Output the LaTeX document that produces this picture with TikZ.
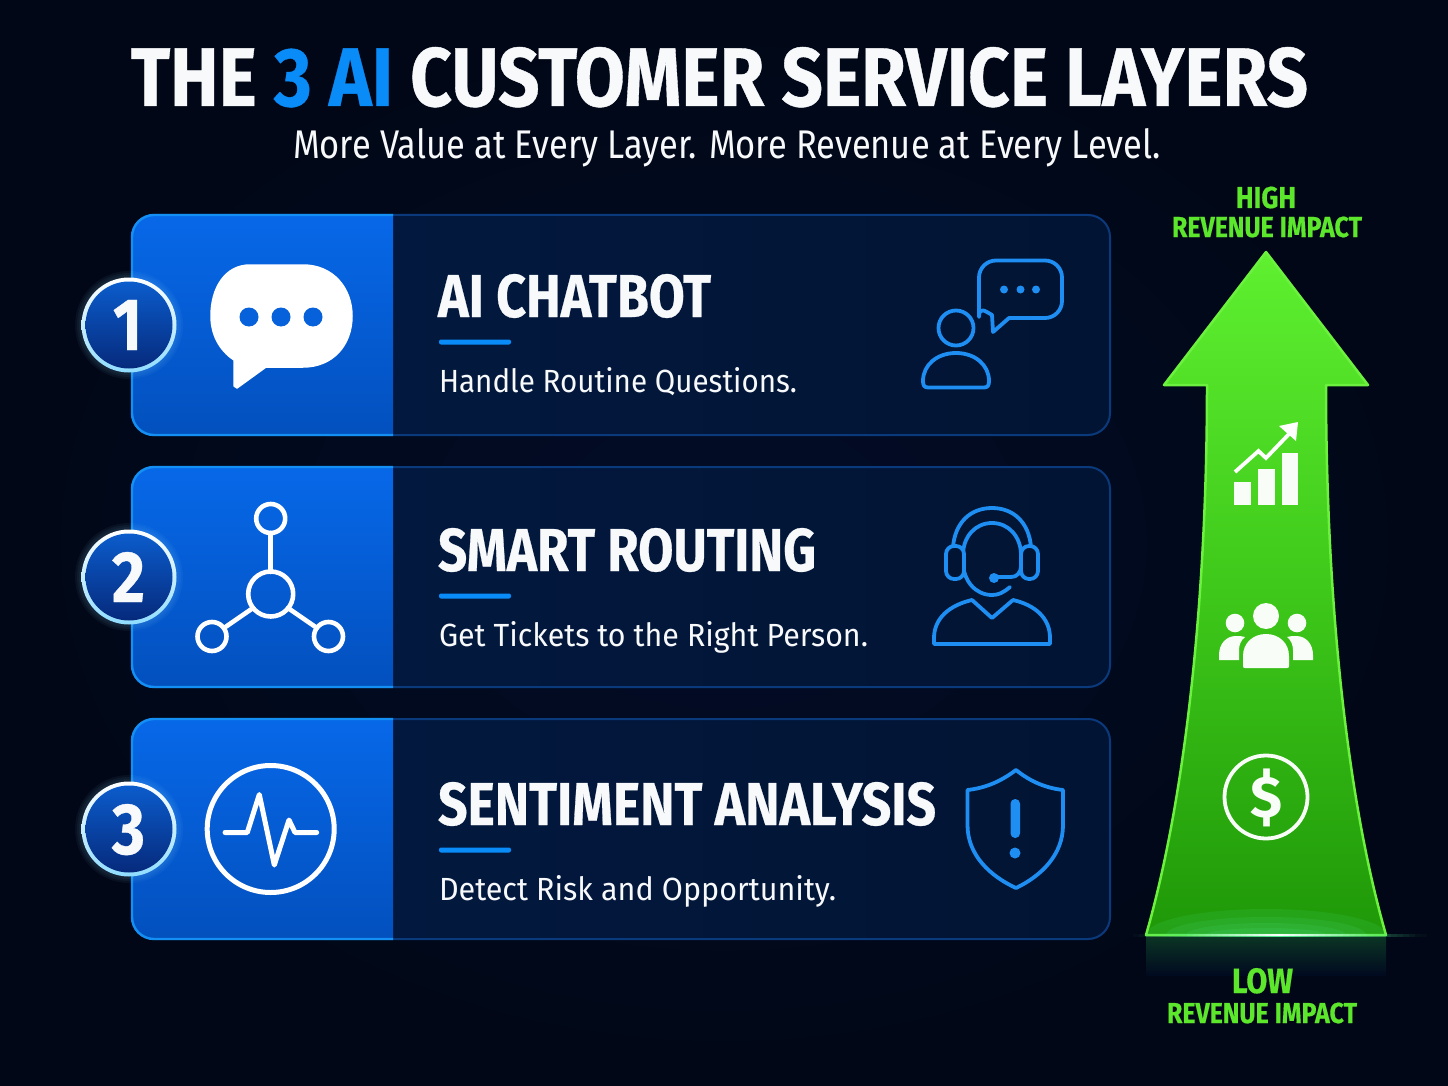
\documentclass[tikz,border=0pt]{standalone}
\usepackage{fontspec}
\usepackage{graphicx}
\setmainfont{Fira Sans}
\newfontfamily\heavyf{Fira Sans}[BoldFeatures={FakeBold=0.5}]
\definecolor{bgin}{HTML}{020D28}
\definecolor{bgout}{HTML}{010716}
\definecolor{bgmid}{HTML}{010A20}
\definecolor{pnlL}{HTML}{021A42}
\definecolor{pnlR}{HTML}{021433}
\definecolor{pnlB}{HTML}{0B3A7C}
\definecolor{blueT}{HTML}{0768E8}
\definecolor{blueB}{HTML}{0350BE}
\definecolor{blueE}{HTML}{1490F5}
\definecolor{accent}{HTML}{0A8CF8}
\definecolor{iconblue}{HTML}{1E8EF2}
\definecolor{txtwhite}{HTML}{F8F9FB}
\definecolor{grn}{HTML}{5CE62C}
\definecolor{arT}{HTML}{5FF030}
\definecolor{arM}{HTML}{3EC81A}
\definecolor{arB}{HTML}{1F9808}
\definecolor{arE}{HTML}{6CF23E}
\definecolor{ringB}{HTML}{8FDCFF}
\definecolor{badT}{HTML}{0B5CCC}
\definecolor{badB}{HTML}{062A7C}
\definecolor{footG}{HTML}{4FE890}
\definecolor{reflG}{HTML}{0B3524}
\newcommand{\fitbox}[3]{\resizebox{#1pt}{#2pt}{#3}}
\tikzset{
  txt/.style={inner sep=0pt, outer sep=0pt, anchor=base west, text=txtwhite},
  headtxt/.style={txt, font=\heavyf\bfseries},
  grntxt/.style={headtxt, text=grn},
  whiteicon/.style={draw=white, line width=4.6pt, line cap=round, line join=round},
  blueicon/.style={draw=iconblue, line width=3.8pt, line cap=round, line join=round},
  greenwhite/.style={fill=white!97!arM},
  rulebar/.style={fill=accent, rounded corners=2pt}
}
\begin{document}
\begin{tikzpicture}[x=1pt,y=-1pt]
\useasboundingbox (0,0) rectangle (1448,1086);
\shade[inner color=bgin, outer color=bgout] (0,0) rectangle (1448,1086);
% title
\node[headtxt] (title) at (131,106) {\fitbox{1177}{59}{THE \textcolor{accent}{3 AI} CUSTOMER SERVICE LAYERS}};
\node[txt] (subtitle) at (293,159) {\fitbox{868}{30}{More Value at Every Layer. More Revenue at Every Level.}};
% panels
\foreach \t in {215,467,719}{
  \pgfmathsetmacro{\b}{\t+220}
  \shade[left color=pnlL, right color=pnlR, rounded corners=22pt] (132,\t) rectangle (1110,\b);
  \draw[pnlB, line width=2pt, rounded corners=22pt] (132,\t) rectangle (1110,\b);
  \begin{scope}
    \clip[rounded corners=22pt] (132,\t) rectangle (1110,\b);
    \shade[top color=blueT, bottom color=blueB] (132,\t) rectangle (393,\b);
  \end{scope}
  \draw[blueE, line width=2.4pt, rounded corners=22pt] (393,\t) -- (132,\t) -- (132,\b) -- (393,\b);
}
% badges
\foreach \n/\cy/\dx/\dw/\base in {1/325/113/29/350, 2/577/112/33/602, 3/829/112/33/854}{
  \foreach \g in {7,5,3}{
    \fill[ringB, opacity=.05] (129,\cy) circle[radius=47pt+\g pt];
  }
  \shade[top color=white, bottom color=ringB] (129,\cy) circle[radius=47.5pt];
  \shade[top color=badT, bottom color=badB] (129,\cy) circle[radius=43.5pt];
  \node[headtxt] (badge\n) at (\dx,\base) {\fitbox{\dw}{50}{\n}};
}
% chat icon
\fill[white, draw=white, line width=1.5pt, line join=round] (250,265) -- (303,265) .. controls (333,265) and (352,288) .. (352,316) .. controls (352,345) and (333,367) .. (303,367) -- (266,367) -- (237,388) -- (234,386) -- (234,360) .. controls (219,350) and (211,334) .. (211,316) .. controls (211,288) and (225,265) .. (250,265) -- cycle;
\foreach \x in {249,281,313}{ \fill[blueT!70!blueB] (\x,317) circle[radius=9.5pt]; }
% network icon
\draw[whiteicon] (270.7,533) -- (270.7,572);
\draw[whiteicon] (253,608) -- (224,628);
\draw[whiteicon] (288,608) -- (317,628);
\draw[whiteicon] (270.7,594) circle[radius=22.5pt];
\draw[whiteicon] (270.7,518.5) circle[radius=14.5pt];
\draw[whiteicon] (212,636.5) circle[radius=14.5pt];
\draw[whiteicon] (328.5,636.5) circle[radius=14.5pt];
% pulse icon
\draw[white, line width=5pt] (270.7,829) circle[radius=63.5pt];
\draw[whiteicon, line width=5pt] (225,832.5) -- (247.3,832.5) -- (259.3,794.5) -- (274.3,865) -- (289,820) -- (295,832.5) -- (316.7,832.5);
% headings
\node[headtxt] (head1) at (438,317) {\fitbox{273}{43}{AI CHATBOT}};
\node[headtxt] (head2) at (438,571) {\fitbox{378}{43}{SMART ROUTING}};
\node[headtxt] (head3) at (438,825) {\fitbox{498}{43}{SENTIMENT ANALYSIS}};
\foreach \y in {342,596,850}{ \fill[rulebar] (439,\y-2.5) rectangle (511,\y+2.5); }
\node[txt] (desc1) at (439,392) {\fitbox{358}{25}{Handle Routine Questions.}};
\node[txt] (desc2) at (439,646) {\fitbox{429}{25}{Get Tickets to the Right Person.}};
\node[txt] (desc3) at (439,900) {\fitbox{397}{25}{Detect Risk and Opportunity.}};
% person + bubble
\draw[blueicon] (1009,318) [rounded corners=17pt] -- (1062,318) -- (1062,260.5) -- (979,260.5) -- (979,300) [sharp corners] .. controls (979,306) and (985,311) .. (992,315) -- (993,332) -- cycle;
\foreach \x in {1004,1020.5,1036}{ \fill[iconblue] (\x,289.5) circle[radius=4pt]; }
\draw[blueicon] (956,328) circle[radius=17.5pt];
\draw[blueicon] (956,353) .. controls (975,353) and (989,365) .. (989,381) .. controls (989,385) and (988,387.5) .. (984,387.5) -- (928,387.5) .. controls (924,387.5) and (923,385) .. (923,381) .. controls (923,365) and (937,353) .. (956,353) -- cycle;
% headset
\draw[blueicon] (953,547) .. controls (955,523) and (970,508) .. (992,508) .. controls (1014,508) and (1029,523) .. (1031,547);
\draw[blueicon] (1010,587) .. controls (1003,593) and (998,595) .. (992,595) .. controls (975,595) and (963,580) .. (963,562) -- (963,555) .. controls (963,537) and (975,523) .. (992,523) .. controls (1009,523) and (1021,537) .. (1021,555) -- (1021,565) .. controls (1021,573) and (1017,577) .. (1011,577) -- (994,577);
\fill[iconblue] (994,578) circle[radius=5pt];
\draw[blueicon, rounded corners=8pt, fill=pnlR] (946,546) rectangle (964,579);
\draw[blueicon, rounded corners=8pt, fill=pnlR] (1021,546) rectangle (1038,579);
\draw[blueicon] (972,600) -- (992,618) -- (1013,600) .. controls (1035,605) and (1050,618) .. (1050,638) -- (1050,644) -- (934,644) -- (934,638) .. controls (934,618) and (950,605) .. (972,600) -- cycle;
% shield
\draw[blueicon] (1016,770) .. controls (1000,782) and (985,788) .. (967.5,790) -- (967.5,825) .. controls (967.5,855) and (990,876) .. (1016,888) .. controls (1041,876) and (1063,855) .. (1063,825) -- (1063,790) .. controls (1046,788) and (1031,782) .. (1016,770) -- cycle;
\fill[iconblue, rounded corners=4.6pt] (1010.5,799) rectangle (1020,838);
\fill[iconblue] (1015,853) circle[radius=5.5pt];
% reflection under the arrow
\shade[top color=reflG, bottom color=bgmid] (1146,936) rectangle (1386,975);
% arrow
\draw[arE, line width=2.5pt, line join=round, top color=arT, bottom color=arB, middle color=arM]
  (1266,252) -- (1368,385) -- (1326,385) .. controls (1326,600) and (1347,800) .. (1386,935) -- (1146,935) .. controls (1185,800) and (1207,600) .. (1207,385) -- (1164,385) -- cycle;
% glow at the foot
\begin{scope}
  \clip (1146,880) rectangle (1386,934);
  \foreach \rx/\ry in {120/26,100/18,80/12,60/7}{
    \fill[footG, opacity=.12] (1266,935) ellipse[x radius=\rx pt, y radius=\ry pt];
  }
\end{scope}
\foreach \i in {0,...,48}{
  \pgfmathsetmacro{\xa}{1133+6*\i}
  \pgfmathsetmacro{\xb}{\xa+6}
  \pgfmathsetmacro{\op}{max(0.03,1-abs(\xa+3-1279)/146)}
  \pgfmathsetmacro{\opw}{max(0,1-abs(\xa+3-1279)/95)}
  \fill[footG, opacity=\op] (\xa,934) rectangle (\xb,936.5);
  \fill[white, opacity=\opw] (\xa,934.2) rectangle (\xb,936.2);
}
% chart icon
\fill[greenwhite] (1234,482) rectangle (1250.5,505);
\fill[greenwhite] (1258,469) rectangle (1274.5,505);
\fill[greenwhite] (1281.5,453) rectangle (1298,505);
\draw[white, line width=3.8pt] (1235,472) -- (1258.5,451) -- (1266,458) -- (1289,434);
\fill[white] (1298,422) -- (1279,426) -- (1296,441) -- cycle;
% people icon
\fill[greenwhite] (1266,616) circle[radius=13pt];
\fill[greenwhite] (1235,623) circle[radius=9.3pt];
\fill[greenwhite] (1297,623) circle[radius=9.3pt];
\fill[greenwhite] (1243,666) .. controls (1243,668) and (1244,668) .. (1245,668) -- (1287,668) .. controls (1288,668) and (1289,668) .. (1289,666) -- (1289,656) .. controls (1289,643) and (1279,634) .. (1266,634) .. controls (1253,634) and (1243,643) .. (1243,656) -- cycle;
\fill[greenwhite] (1219,660) -- (1239,660) -- (1239,650) .. controls (1239,645) and (1241,640) .. (1245,637) .. controls (1242,636) and (1239,636) .. (1236,636) .. controls (1226,636) and (1219,644) .. (1219,655) -- cycle;
\fill[greenwhite] (1313,660) -- (1293,660) -- (1293,650) .. controls (1293,645) and (1291,640) .. (1287,637) .. controls (1290,636) and (1293,636) .. (1296,636) .. controls (1306,636) and (1313,644) .. (1313,655) -- cycle;
% dollar icon
\draw[white!97!arM, line width=3.8pt] (1266,797) circle[radius=41.5pt];
\node[inner sep=0pt, outer sep=0pt, text=white!97!arM, font=\bfseries] (dollar) at (1266,798) {\resizebox*{32pt}{58pt}{\$}};
% side labels
\node[grntxt] (high) at (1236,208) {\fitbox{60}{21.5}{HIGH}};
\node[grntxt] (highsub) at (1172,237) {\fitbox{190}{20.5}{REVENUE IMPACT}};
\node[grntxt] (low) at (1232,993) {\fitbox{61}{25}{LOW}};
\node[grntxt] (lowsub) at (1167,1023) {\fitbox{190}{20.5}{REVENUE IMPACT}};
\end{tikzpicture}
\end{document}
